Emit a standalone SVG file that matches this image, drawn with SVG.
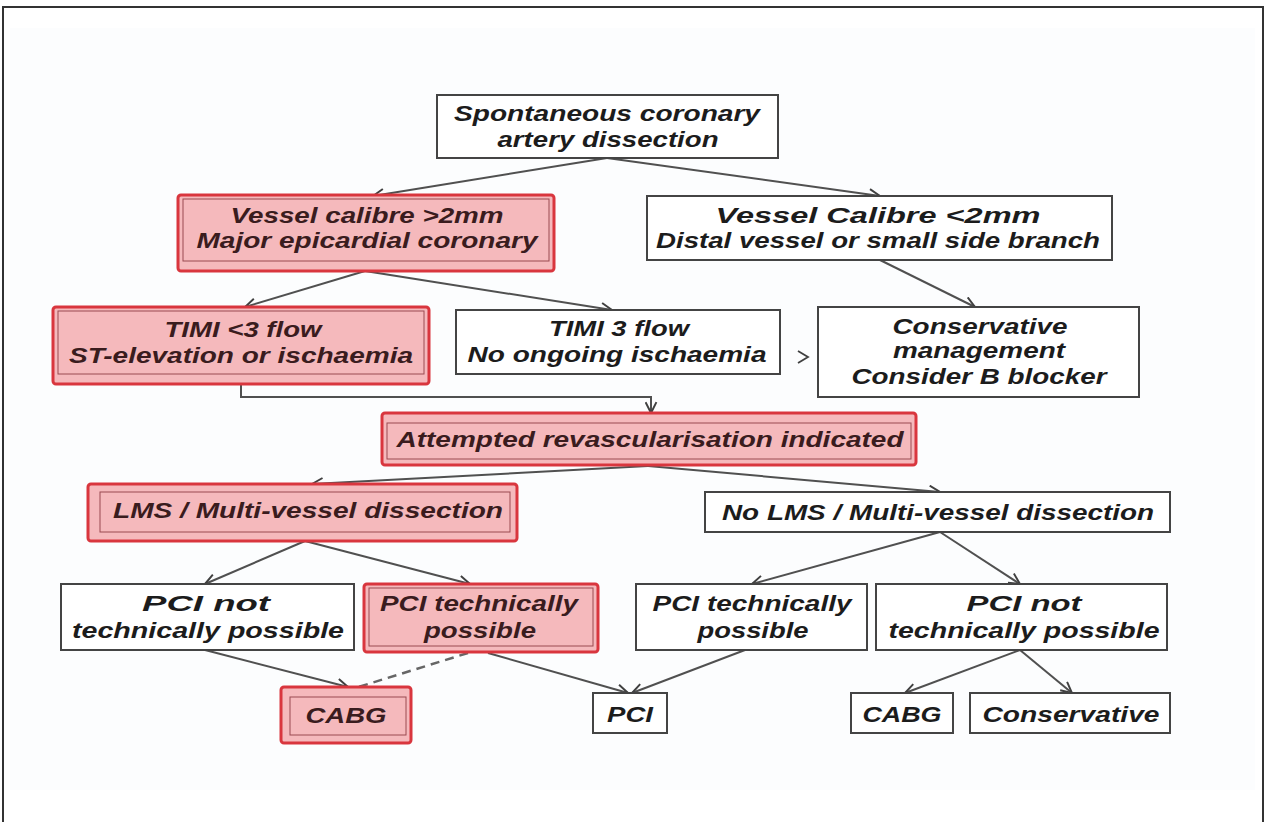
<svg xmlns="http://www.w3.org/2000/svg" width="1266" height="822" viewBox="0 0 1266 822">
<style>
text{font-family:"Liberation Sans",Arial,sans-serif;font-weight:bold;font-style:italic;font-size:22px;fill:#1c1c1c;text-anchor:middle}
.red text{fill:#3a1c1e}
.wb{fill:#fff;stroke:#444;stroke-width:2}
.ro{fill:#f5b9bc;stroke:#d9363e;stroke-width:3}
.ri{fill:none;stroke:#9a4a50;stroke-width:1}
.c{fill:none;stroke:#505050;stroke-width:2}
.d{fill:none;stroke:#666;stroke-width:2.5;stroke-dasharray:9,6}
</style>
<defs>
<marker id="ah" viewBox="0 0 12 12" refX="11" refY="6" markerWidth="13" markerHeight="13" markerUnits="userSpaceOnUse" orient="auto">
<path d="M1,1 L11,6 L1,11" fill="none" stroke="#404040" stroke-width="1.8"/>
</marker>
</defs>
<rect x="0" y="0" width="1266" height="822" fill="#fff"/>
<rect x="10" y="28" width="1245" height="762" fill="#fcfdfe"/>
<path d="M3,822 V7 H1263 V822" fill="none" stroke="#333" stroke-width="2"/>

<g id="connectors">
<path class="c" d="M607,158 L373,196" marker-end="url(#ah)"/>
<path class="c" d="M607,158 L880,196" marker-end="url(#ah)"/>
<path class="c" d="M365,271 L245,307" marker-end="url(#ah)"/>
<path class="c" d="M365,271 L612,310" marker-end="url(#ah)"/>
<path class="c" d="M880,260 L975,307" marker-end="url(#ah)"/>
<path d="M798,351 L808,357 L798,363" fill="none" stroke="#404040" stroke-width="1.8"/>
<path class="c" d="M241,385 V397 H651 V413" marker-end="url(#ah)"/>
<path class="c" d="M648,466 L312,484" marker-end="url(#ah)"/>
<path class="c" d="M648,466 L940,492" marker-end="url(#ah)"/>
<path class="c" d="M305,541 L205,584" marker-end="url(#ah)"/>
<path class="c" d="M305,541 L470,584" marker-end="url(#ah)"/>
<path class="c" d="M940,532 L752,584" marker-end="url(#ah)"/>
<path class="c" d="M940,532 L1020,584" marker-end="url(#ah)"/>
<path class="c" d="M205,650 L348,687" marker-end="url(#ah)"/>
<path class="d" d="M468,653 L352,689"/>
<path class="c" d="M488,653 L628,693" marker-end="url(#ah)"/>
<path class="c" d="M745,650 L632,693" marker-end="url(#ah)"/>
<path class="c" d="M1020,650 L905,693" marker-end="url(#ah)"/>
<path class="c" d="M1020,650 L1072,693" marker-end="url(#ah)"/>
</g>

<g id="n-scad">
<rect class="wb" x="437" y="95" width="341" height="63"/>
<text x="607" y="121" textLength="306" lengthAdjust="spacingAndGlyphs">Spontaneous coronary</text>
<text x="608" y="147" textLength="221" lengthAdjust="spacingAndGlyphs">artery dissection</text>
</g>

<g id="n-large" class="red">
<rect class="ro" x="178" y="195" width="376" height="76" rx="3"/>
<rect class="ri" x="183" y="199" width="366" height="62"/>
<text x="367" y="223" textLength="273" lengthAdjust="spacingAndGlyphs">Vessel calibre &gt;2mm</text>
<text x="367" y="248" textLength="341" lengthAdjust="spacingAndGlyphs">Major epicardial coronary</text>
</g>

<g id="n-small">
<rect class="wb" x="647" y="196" width="465" height="64"/>
<text x="878" y="223" textLength="325" lengthAdjust="spacingAndGlyphs">Vessel Calibre &lt;2mm</text>
<text x="878" y="248" textLength="444" lengthAdjust="spacingAndGlyphs">Distal vessel or small side branch</text>
</g>

<g id="n-timi-lt3" class="red">
<rect class="ro" x="53" y="307" width="376" height="77" rx="3"/>
<rect class="ri" x="58" y="311" width="366" height="63"/>
<text x="243" y="337" textLength="157" lengthAdjust="spacingAndGlyphs">TIMI &lt;3 flow</text>
<text x="241" y="363" textLength="344" lengthAdjust="spacingAndGlyphs">ST-elevation or ischaemia</text>
</g>

<g id="n-timi3">
<rect class="wb" x="456" y="310" width="324" height="64"/>
<text x="619" y="336" textLength="140" lengthAdjust="spacingAndGlyphs">TIMI 3 flow</text>
<text x="617" y="362" textLength="299" lengthAdjust="spacingAndGlyphs">No ongoing ischaemia</text>
</g>

<g id="n-conservative-mgmt">
<rect class="wb" x="818" y="307" width="321" height="90"/>
<text x="980" y="334" textLength="175" lengthAdjust="spacingAndGlyphs">Conservative</text>
<text x="979" y="358" textLength="172" lengthAdjust="spacingAndGlyphs">management</text>
<text x="979" y="384" textLength="255" lengthAdjust="spacingAndGlyphs">Consider B blocker</text>
</g>

<g id="n-revasc" class="red">
<rect class="ro" x="382" y="413" width="534" height="52" rx="3"/>
<rect class="ri" x="387" y="423" width="524" height="36"/>
<text x="650" y="447" textLength="507" lengthAdjust="spacingAndGlyphs">Attempted revascularisation indicated</text>
</g>

<g id="n-lms" class="red">
<rect class="ro" x="88" y="484" width="429" height="57" rx="3"/>
<rect class="ri" x="100" y="492" width="410" height="40"/>
<text x="308" y="518" textLength="390" lengthAdjust="spacingAndGlyphs">LMS / Multi-vessel dissection</text>
</g>

<g id="n-nolms">
<rect class="wb" x="705" y="492" width="465" height="40"/>
<text x="938" y="520" textLength="432" lengthAdjust="spacingAndGlyphs">No LMS / Multi-vessel dissection</text>
</g>

<g id="n-pci-not-left">
<rect class="wb" x="61" y="584" width="293" height="66"/>
<text x="206" y="611" textLength="128" lengthAdjust="spacingAndGlyphs">PCI not</text>
<text x="208" y="638" textLength="272" lengthAdjust="spacingAndGlyphs">technically possible</text>
</g>

<g id="n-pci-poss-left" class="red">
<rect class="ro" x="364" y="584" width="234" height="68" rx="3"/>
<rect class="ri" x="369" y="588" width="224" height="58"/>
<text x="479" y="611" textLength="198" lengthAdjust="spacingAndGlyphs">PCI technically</text>
<text x="480" y="638" textLength="112" lengthAdjust="spacingAndGlyphs">possible</text>
</g>

<g id="n-pci-poss-right">
<rect class="wb" x="636" y="584" width="231" height="66"/>
<text x="752" y="611" textLength="199" lengthAdjust="spacingAndGlyphs">PCI technically</text>
<text x="753" y="638" textLength="111" lengthAdjust="spacingAndGlyphs">possible</text>
</g>

<g id="n-pci-not-right">
<rect class="wb" x="876" y="584" width="291" height="66"/>
<text x="1024" y="611" textLength="115" lengthAdjust="spacingAndGlyphs">PCI not</text>
<text x="1024" y="638" textLength="271" lengthAdjust="spacingAndGlyphs">technically possible</text>
</g>

<g id="n-cabg-left" class="red">
<rect class="ro" x="281" y="687" width="130" height="56" rx="3"/>
<rect class="ri" x="290" y="697" width="116" height="38"/>
<text x="346" y="723" textLength="81" lengthAdjust="spacingAndGlyphs">CABG</text>
</g>

<g id="n-pci">
<rect class="wb" x="593" y="693" width="74" height="40"/>
<text x="630" y="722" textLength="46" lengthAdjust="spacingAndGlyphs">PCI</text>
</g>

<g id="n-cabg-right">
<rect class="wb" x="851" y="693" width="102" height="40"/>
<text x="902" y="722" textLength="79" lengthAdjust="spacingAndGlyphs">CABG</text>
</g>

<g id="n-conservative">
<rect class="wb" x="970" y="693" width="200" height="40"/>
<text x="1071" y="722" textLength="177" lengthAdjust="spacingAndGlyphs">Conservative</text>
</g>
</svg>
